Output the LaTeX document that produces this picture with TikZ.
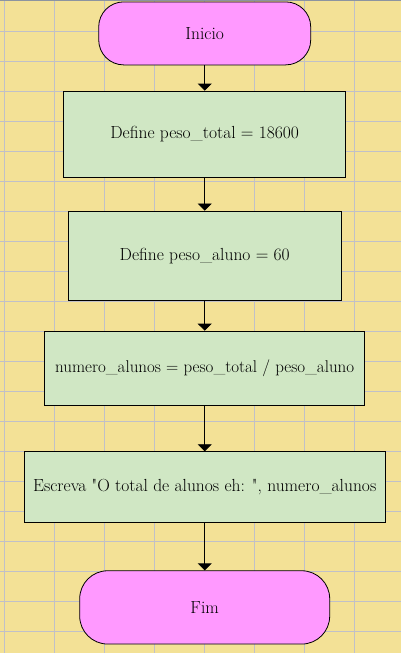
\documentclass[tikz,border=0pt]{standalone}
\usepackage{fontspec}
\setmainfont{Latin Modern Roman}
\usetikzlibrary{arrows.meta}
\definecolor{bgyellow}{RGB}{243,225,150}
\definecolor{gridgray}{RGB}{192,192,200}
\definecolor{topbar}{RGB}{140,148,160}
\definecolor{termpink}{RGB}{255,153,255}
\definecolor{procgreen}{RGB}{208,231,196}
\tikzset{
  term/.style={draw=black, line width=0.8pt, fill=termpink, inner sep=0pt, font=\fontsize{17.5}{20}\selectfont},
  proc/.style={draw=black, line width=0.8pt, fill=procgreen, inner sep=0pt, font=\fontsize{17.5}{20}\selectfont},
  flow/.style={draw=black, line width=0.8pt, -{Triangle[width=14pt,length=7pt]}},
}
\begin{document}
\begin{tikzpicture}[x=1pt,y=-1pt]
\useasboundingbox (0,0) rectangle (401,653);
\fill[bgyellow] (0,0) rectangle (401,653);
\foreach \gx in {4.5,54.5,...,354.5} \draw[gridgray, line width=1pt] (\gx,0) -- (\gx,653);
\foreach \gy in {31.5,61.5,...,631.5} \draw[gridgray, line width=1pt] (0,\gy) -- (401,\gy);
\fill[topbar] (0,0) rectangle (401,1.4);

\node[term, rounded corners=25pt, minimum width=212pt, minimum height=63pt] (ini) at (204.7,33.4) {Inicio};
\node[proc, minimum width=281.7pt, minimum height=86pt] (b1) at (204.7,134) {Define peso\_total = 18600};
\node[proc, minimum width=273.4pt, minimum height=89.3pt] (b2) at (204.7,255.6) {Define peso\_aluno = 60};
\node[proc, minimum width=320pt, minimum height=74.3pt] (b3) at (204.7,368.2) {\fontsize{17}{20}\selectfont numero\_alunos = peso\_total / peso\_aluno};
\node[proc, minimum width=361pt, minimum height=71pt] (b4) at (204.7,487.2) {Escreva \textquotedbl O total de alunos eh: \textquotedbl, numero\_alunos};
\node[term, rounded corners=28pt, minimum width=250pt, minimum height=73.3pt] (fim) at (204.7,607.4) {Fim};

\draw[flow] (ini) -- (b1);
\draw[flow] (b1) -- (b2);
\draw[flow] (b2) -- (b3);
\draw[flow] (b3) -- (b4);
\draw[flow] (b4) -- (fim);
\end{tikzpicture}
\end{document}
